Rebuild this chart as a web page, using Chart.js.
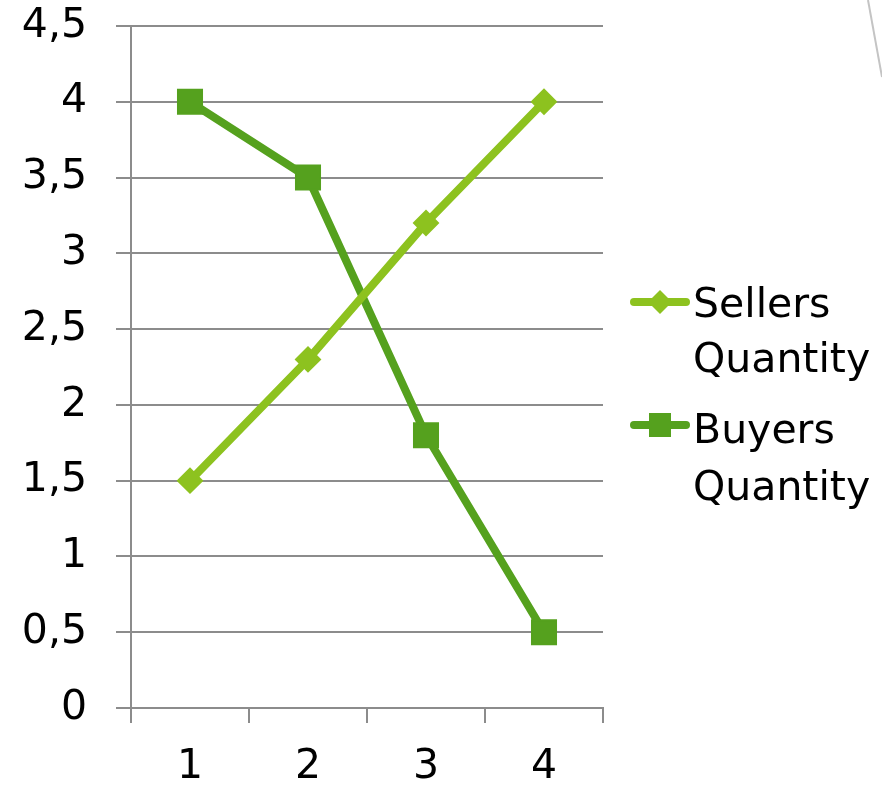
<!DOCTYPE html>
<html>
<head>
<meta charset="utf-8">
<script src="https://cdn.jsdelivr.net/npm/chart.js@4/dist/chart.umd.min.js"></script>
<style>
  html, body { margin: 0; padding: 0; background: #ffffff; }
  #wrap { width: 882px; height: 786px; position: relative; }
</style>
</head>
<body>
<div id="wrap"><canvas id="c" width="882" height="786"></canvas></div>
<script>
const categories = ['1', '2', '3', '4'];
const sellersQuantity = [1.5, 2.3, 3.2, 4];
const buyersQuantity = [4, 3.5, 1.8, 0.5];
const seriesNames = ['Sellers Quantity', 'Buyers Quantity'];
const yTickValues = [0, 0.5, 1, 1.5, 2, 2.5, 3, 3.5, 4, 4.5];

const LIGHT = '#8DC21F';
const DARK = '#55A11E';
const GRID = '#8c8c8c';
const FONT = 'DejaVu Sans';

const legendPlugin = {
  id: 'excelLegend',
  afterDraw(chart) {
    const ctx = chart.ctx;
    ctx.save();
    // decorative slide line at top right
    ctx.strokeStyle = '#c4c4c4';
    ctx.lineWidth = 2;
    ctx.beginPath();
    ctx.moveTo(868, 0);
    ctx.lineTo(882, 77);
    ctx.stroke();

    const entries = [
      { y: 302, baselines: [317, 372] },
      { y: 425, baselines: [443, 500] }
    ];
    chart.data.datasets.forEach((ds, i) => {
      const e = entries[i];
      ctx.strokeStyle = ds.borderColor;
      ctx.lineWidth = 8;
      ctx.lineCap = 'round';
      ctx.beginPath();
      ctx.moveTo(634, e.y);
      ctx.lineTo(686, e.y);
      ctx.stroke();
      ctx.fillStyle = ds.borderColor;
      if (ds.pointStyle === 'rectRot') {
        ctx.beginPath();
        ctx.moveTo(660 - 12, e.y);
        ctx.lineTo(660, e.y - 12);
        ctx.lineTo(660 + 12, e.y);
        ctx.lineTo(660, e.y + 12);
        ctx.closePath();
        ctx.fill();
      } else {
        ctx.fillRect(660 - 11, e.y - 12, 22, 24);
      }
      ctx.fillStyle = '#000000';
      ctx.font = '41px "' + FONT + '"';
      ctx.textAlign = 'left';
      ctx.textBaseline = 'alphabetic';
      const lines = ds.label.split(' ');
      lines.forEach((t, k) => ctx.fillText(t, 693, e.baselines[k]));
    });
    ctx.restore();
  }
};

new Chart(document.getElementById('c'), {
  type: 'line',
  data: {
    labels: categories,
    datasets: [
      {
        label: seriesNames[0],
        data: sellersQuantity,
        borderColor: LIGHT,
        backgroundColor: LIGHT,
        borderWidth: 8,
        pointStyle: 'rectRot',
        pointRadius: 12,
        pointBorderWidth: 2,
        pointBorderColor: LIGHT,
        pointBackgroundColor: LIGHT,
        tension: 0
      },
      {
        label: seriesNames[1],
        data: buyersQuantity,
        borderColor: DARK,
        backgroundColor: DARK,
        borderWidth: 8,
        pointStyle: 'rect',
        pointRadius: 17,
        pointBorderWidth: 2,
        pointBorderColor: DARK,
        pointBackgroundColor: DARK,
        tension: 0
      }
    ]
  },
  options: {
    responsive: false,
    animation: false,
    devicePixelRatio: 1,
    layout: { padding: { left: 0, right: 279, top: 26, bottom: 0 } },
    plugins: {
      legend: { display: false },
      tooltip: { enabled: false }
    },
    scales: {
      x: {
        type: 'category',
        offset: true,
        grid: {
          offset: true,
          drawOnChartArea: false,
          drawTicks: true,
          tickLength: 15,
          color: GRID,
          lineWidth: 2
        },
        border: { display: true, color: GRID, width: 2 },
        ticks: {
          color: '#000000',
          font: { family: FONT, size: 41 },
          padding: 20,
          maxRotation: 0
        },
        afterFit(scale) {
          scale.height = 78;
          scale.paddingLeft = 0;
          scale.paddingRight = 0;
        }
      },
      y: {
        min: 0,
        max: 4.5,
        afterBuildTicks(scale) {
          scale.ticks = yTickValues.map(v => ({ value: v }));
        },
        grid: {
          drawTicks: true,
          tickLength: 15,
          color: GRID,
          lineWidth: 2
        },
        border: { display: true, color: GRID, width: 2 },
        ticks: {
          color: '#000000',
          font: { family: FONT, size: 41 },
          padding: 29,
          callback: v => String(v).replace('.', ',')
        },
        afterFit(scale) {
          scale.width = 131;
          scale.paddingTop = 0;
          scale.paddingBottom = 0;
        }
      }
    }
  },
  plugins: [legendPlugin]
});
</script>
</body>
</html>
